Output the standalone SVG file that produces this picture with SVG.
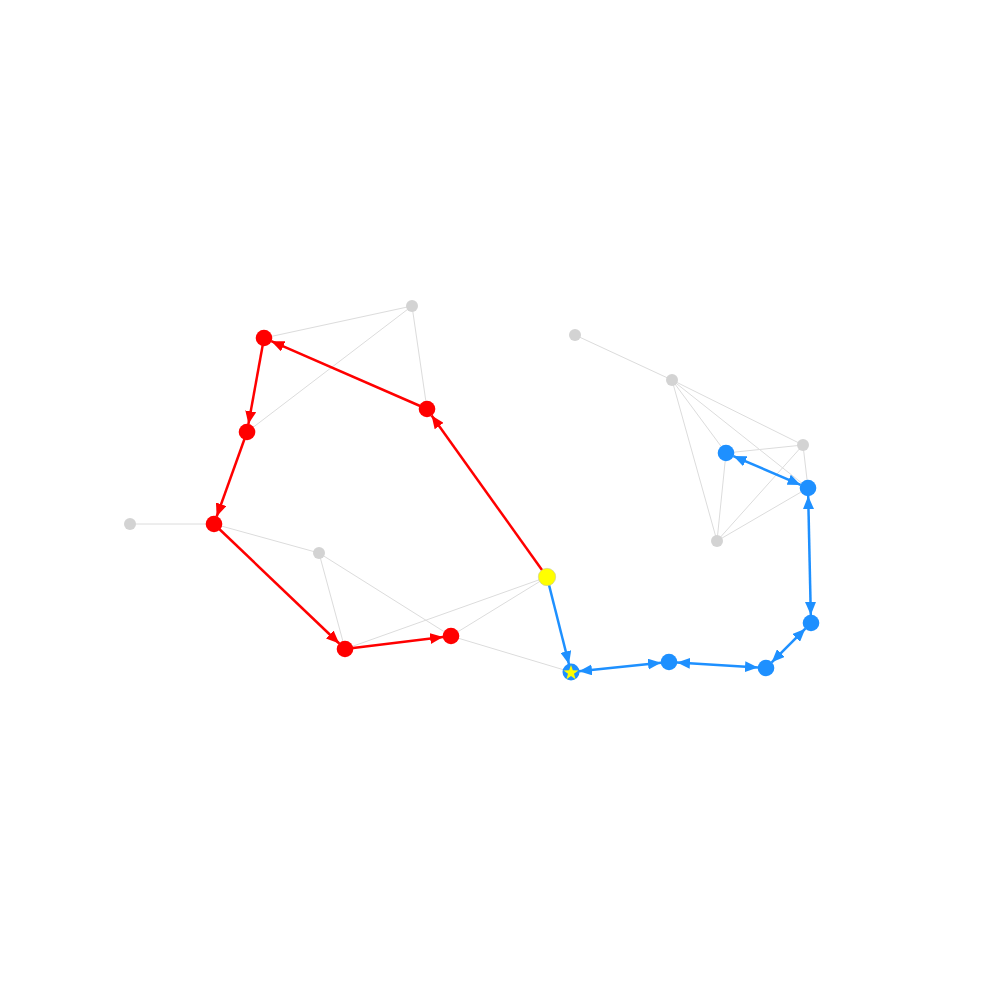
<svg xmlns="http://www.w3.org/2000/svg" width="1000" height="1000" viewBox="0 0 1000 1000">
<style>
.bg{stroke:#dcdcdc;stroke-width:1;fill:none}
.re{stroke:#ff0000;stroke-width:2.5;fill:none;marker-end:url(#ar)}
.be{stroke:#1e90ff;stroke-width:2.5;fill:none;marker-end:url(#ab)}
.bb{stroke:#1e90ff;stroke-width:2.5;fill:none;marker-end:url(#ab);marker-start:url(#ab)}
.g{fill:#d3d3d3}
.r{fill:#ff0000}
.b{fill:#1e90ff}
</style>
<defs>
<marker id="ar" viewBox="0 0 13 11" refX="13" refY="5.5" markerWidth="13" markerHeight="11" markerUnits="userSpaceOnUse" orient="auto-start-reverse"><path d="M0,0 L13,5.5 L0,11 z" fill="#ff0000"/></marker>
<marker id="ab" viewBox="0 0 13 11" refX="13" refY="5.5" markerWidth="13" markerHeight="11" markerUnits="userSpaceOnUse" orient="auto-start-reverse"><path d="M0,0 L13,5.5 L0,11 z" fill="#1e90ff"/></marker>
</defs>
<rect width="1000" height="1000" fill="#ffffff"/>
<g id="connectors">
<line class="bg" x1="412" y1="306" x2="264" y2="338"/>
<line class="bg" x1="412" y1="306" x2="247" y2="432"/>
<line class="bg" x1="412" y1="306" x2="427" y2="409"/>
<line class="bg" x1="130" y1="524" x2="214" y2="524"/>
<line class="bg" x1="214" y1="524" x2="319" y2="553"/>
<line class="bg" x1="319" y1="553" x2="345" y2="649"/>
<line class="bg" x1="319" y1="553" x2="451" y2="636"/>
<line class="bg" x1="345" y1="649" x2="547" y2="577"/>
<line class="bg" x1="451" y1="636" x2="547" y2="577"/>
<line class="bg" x1="451" y1="636" x2="571" y2="672"/>
<line class="bg" x1="575" y1="335" x2="672" y2="380"/>
<line class="bg" x1="672" y1="380" x2="717" y2="541"/>
<line class="bg" x1="672" y1="380" x2="726" y2="453"/>
<line class="bg" x1="672" y1="380" x2="808" y2="488"/>
<line class="bg" x1="672" y1="380" x2="803" y2="445"/>
<line class="bg" x1="726" y1="453" x2="803" y2="445"/>
<line class="bg" x1="803" y1="445" x2="717" y2="541"/>
<line class="bg" x1="803" y1="445" x2="808" y2="488"/>
<line class="bg" x1="726" y1="453" x2="717" y2="541"/>
<line class="bg" x1="717" y1="541" x2="808" y2="488"/>
<line class="re" x1="547" y1="577" x2="431.6" y2="415.5"/>
<line class="re" x1="427" y1="409" x2="271.3" y2="341.2"/>
<line class="re" x1="264" y1="338" x2="248.4" y2="424.1"/>
<line class="re" x1="247" y1="432" x2="216.7" y2="516.5"/>
<line class="re" x1="214" y1="524" x2="339.2" y2="643.5"/>
<line class="re" x1="345" y1="649" x2="443.1" y2="637"/>
<line class="be" x1="547" y1="577" x2="569" y2="664.2"/>
<line class="bb" x1="579" y1="671.2" x2="661" y2="662.8"/>
<line class="bb" x1="677" y1="662.5" x2="758" y2="667.5"/>
<line class="bb" x1="771.7" y1="662.3" x2="805.3" y2="628.7"/>
<line class="bb" x1="810.8" y1="615" x2="808.2" y2="496"/>
<line class="bb" x1="800.6" y1="484.9" x2="733.4" y2="456.1"/>
</g>
<g id="n-g1"><circle class="g" cx="412" cy="306" r="6"/></g>
<g id="n-g2"><circle class="g" cx="130" cy="524" r="6"/></g>
<g id="n-g3"><circle class="g" cx="319" cy="553" r="6"/></g>
<g id="n-g4"><circle class="g" cx="575" cy="335" r="6"/></g>
<g id="n-g5"><circle class="g" cx="672" cy="380" r="6"/></g>
<g id="n-g6"><circle class="g" cx="803" cy="445" r="6"/></g>
<g id="n-g7"><circle class="g" cx="717" cy="541" r="6"/></g>
<g id="n-r1"><circle class="r" cx="264" cy="338" r="8.3"/></g>
<g id="n-r2"><circle class="r" cx="247" cy="432" r="8.3"/></g>
<g id="n-r3"><circle class="r" cx="427" cy="409" r="8.3"/></g>
<g id="n-r4"><circle class="r" cx="214" cy="524" r="8.3"/></g>
<g id="n-r5"><circle class="r" cx="345" cy="649" r="8.3"/></g>
<g id="n-r6"><circle class="r" cx="451" cy="636" r="8.3"/></g>
<g id="n-y"><circle cx="547" cy="577" r="8.7" fill="#ffff00" stroke="#c8c8a0" stroke-width="0.6"/></g>
<g id="n-s"><circle class="b" cx="571" cy="672" r="8.5"/>
<polygon fill="#ffff00" transform="translate(571,672.8) scale(1.12)" points="0,-7 1.65,-2.27 6.66,-2.16 2.66,0.87 4.11,5.66 0,2.8 -4.11,5.66 -2.66,0.87 -6.66,-2.16 -1.65,-2.27"/></g>
<g id="n-b1"><circle class="b" cx="669" cy="662" r="8.3"/></g>
<g id="n-b2"><circle class="b" cx="766" cy="668" r="8.3"/></g>
<g id="n-b3"><circle class="b" cx="811" cy="623" r="8.3"/></g>
<g id="n-b4"><circle class="b" cx="808" cy="488" r="8.3"/></g>
<g id="n-b5"><circle class="b" cx="726" cy="453" r="8.3"/></g>
</svg>
